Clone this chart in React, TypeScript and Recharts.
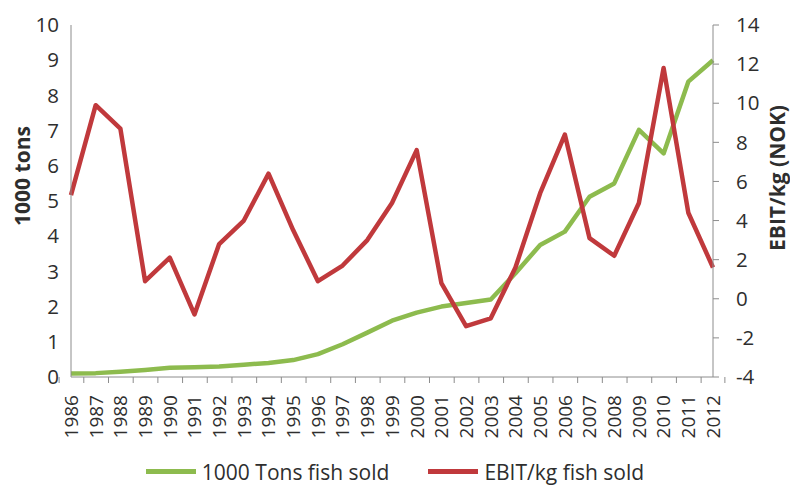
import { LineChart, Line, XAxis, YAxis, Legend } from "recharts";

const years = [
  "1986", "1987", "1988", "1989", "1990", "1991", "1992", "1993", "1994",
  "1995", "1996", "1997", "1998", "1999", "2000", "2001", "2002", "2003",
  "2004", "2005", "2006", "2007", "2008", "2009", "2010", "2011", "2012",
];

// thousand tons of fish sold per year
const tonsSold = [
  0.1, 0.11, 0.15, 0.2, 0.26, 0.28, 0.3, 0.35, 0.4, 0.48, 0.65, 0.93, 1.26,
  1.6, 1.83, 2.0, 2.1, 2.2, 2.95, 3.75, 4.13, 5.12, 5.5, 7.02, 6.35, 8.39, 9.0,
];

// EBIT per kg sold, NOK
const ebitPerKg = [
  5.3, 9.9, 8.7, 0.9, 2.1, -0.8, 2.8, 4.0, 6.4, 3.5, 0.9, 1.7, 3.0, 4.9, 7.6,
  0.8, -1.4, -1.0, 1.6, 5.4, 8.4, 3.1, 2.2, 4.9, 11.8, 4.4, 1.6,
];

const tonsTicks = [0, 1, 2, 3, 4, 5, 6, 7, 8, 9, 10];
const ebitTicks = [-4, -2, 0, 2, 4, 6, 8, 10, 12, 14];

const data = years.map((year, i) => ({
  year,
  tons: tonsSold[i],
  ebit: ebitPerKg[i],
}));

const W = 790;
const H = 486;
const LEFT_W = 71;
const RIGHT_W = 77;
const HALF_BAND = (W - LEFT_W - RIGHT_W) / years.length / 2;

const GREEN = "#8dbb4e";
const RED = "#c0393c";
const AXIS = "#8c8c8c";
const TEXT = "#2e2e2e";
const FONT = "'Open Sans', sans-serif";

// Excel-style category axis: tick marks sit between the years, labels read upward
function YearTick(props: any) {
  const { x, y, payload, index } = props;
  const top = y - 8;
  const ly = y + 10;
  return (
    <g>
      <line x1={x - HALF_BAND} x2={x - HALF_BAND} y1={top} y2={top + 6} stroke={AXIS} />
      {index === years.length - 1 && (
        <line x1={x + HALF_BAND} x2={x + HALF_BAND} y1={top} y2={top + 6} stroke={AXIS} />
      )}
      <text
        x={x}
        y={ly}
        dy="0.36em"
        transform={`rotate(-90 ${x} ${ly})`}
        textAnchor="end"
        fontSize={19}
        fontFamily={FONT}
        fill={TEXT}
      >
        {payload.value}
      </text>
    </g>
  );
}

const axisTitle = (text: string, dx: number, dy: number) => (props: any) => {
  const vb = props.viewBox;
  const cx = vb.x + dx;
  const cy = vb.y + vb.height / 2 + dy;
  return (
    <text
      x={cx}
      y={cy}
      dy="0.35em"
      transform={`rotate(-90 ${cx} ${cy})`}
      textAnchor="middle"
      fontSize={21}
      fontWeight={700}
      fontFamily={FONT}
      fill={TEXT}
    >
      {text}
    </text>
  );
};

function LegendRow(props: any) {
  const items = props.payload || [];
  return (
    <div
      style={{
        height: 39,
        paddingTop: 10,
        boxSizing: "border-box",
        display: "flex",
        justifyContent: "center",
        gap: 39,
        fontFamily: FONT,
        fontSize: 21,
        color: TEXT,
        lineHeight: "26px",
      }}
    >
      {items.map((it: any) => (
        <div key={it.value} style={{ display: "flex", alignItems: "center" }}>
          <span style={{ width: 50, height: 5, background: it.color, marginRight: 6 }} />
          <span>{it.value}</span>
        </div>
      ))}
    </div>
  );
}

export default function App() {
  return (
    <div style={{ position: "absolute", left: 0, top: 0, background: "#fff" }}>
      <LineChart width={W} height={H} data={data} margin={{ top: 25, right: 0, bottom: 0, left: 0 }}>
        <XAxis
          dataKey="year"
          interval={0}
          height={70}
          tickLine={false}
          tickSize={6}
          tickMargin={2}
          axisLine={{ stroke: AXIS }}
          tick={<YearTick />}
        />
        <YAxis
          yAxisId="tons"
          width={LEFT_W}
          domain={[0, 10]}
          ticks={tonsTicks}
          tickLine={false}
          tickSize={6}
          tickMargin={6}
          axisLine={{ stroke: AXIS }}
          tick={{ fontSize: 20.5, fill: TEXT, fontFamily: FONT }}
          label={axisTitle("1000 tons", 23, -25)}
        />
        <YAxis
          yAxisId="ebit"
          orientation="right"
          width={RIGHT_W}
          domain={[-4, 14]}
          ticks={ebitTicks}
          tickSize={6}
          tickMargin={17}
          tickLine={{ stroke: AXIS }}
          axisLine={{ stroke: AXIS }}
          tick={{ fontSize: 20.5, fill: TEXT, fontFamily: FONT }}
          label={axisTitle("EBIT/kg (NOK)", 65, -23)}
        />
        <Legend verticalAlign="bottom" height={39} content={<LegendRow />} />
        <Line
          yAxisId="tons"
          dataKey="tons"
          name="1000 Tons fish sold"
          stroke={GREEN}
          strokeWidth={4.5}
          strokeLinejoin="round"
          dot={false}
          isAnimationActive={false}
        />
        <Line
          yAxisId="ebit"
          dataKey="ebit"
          name="EBIT/kg fish sold"
          stroke={RED}
          strokeWidth={4.5}
          strokeLinejoin="round"
          dot={false}
          isAnimationActive={false}
        />
      </LineChart>
    </div>
  );
}
